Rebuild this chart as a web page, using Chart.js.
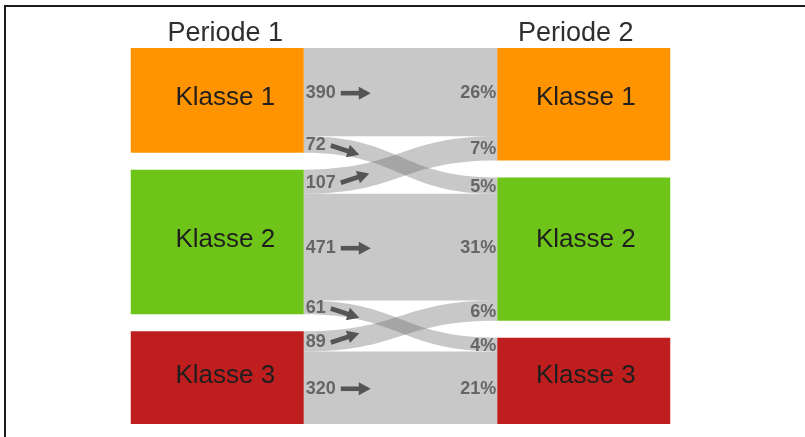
<!DOCTYPE html>
<html lang="de">
<head>
<meta charset="utf-8">
<title>Klassenwechsel Periode 1 – Periode 2</title>
<script src="https://cdn.jsdelivr.net/npm/chart.js@4.4.1/dist/chart.umd.min.js"></script>
<style>
  html, body { margin: 0; padding: 0; background: #fff; overflow: hidden; }
  #rahmen { position: absolute; left: 4px; top: 5px; width: 900px; height: 500px;
            border-top: 2px solid #1c1c1c; border-left: 2px solid #1c1c1c; }
  #chart { position: absolute; left: 0; top: 0; }
</style>
</head>
<body>
<div id="rahmen"></div>
<canvas id="chart" width="805" height="437"></canvas>
<script>
const perioden = ['Periode 1', 'Periode 2'];
const klassen = ['Klasse 1', 'Klasse 2', 'Klasse 3'];
const farben = ['#FF9400', '#6FC41A', '#BE1E1E'];

// Anzahl Wechsel: Zeile = Klasse in Periode 1, Spalte = Klasse in Periode 2
const ausKlasse1 = [390, 72, 0];
const ausKlasse2 = [107, 471, 61];
const ausKlasse3 = [0, 89, 320];
const wechsel = [ausKlasse1, ausKlasse2, ausKlasse3];

const luecke = 75; // Abstand zwischen den Klassen in y-Einheiten
const FONT = "'Liberation Sans', Arial, sans-serif";

const summe = arr => arr.reduce((a, b) => a + b, 0);
const summeAus = wechsel.map(summe);
const summeEin = klassen.map((_, j) => summe(wechsel.map(z => z[j])));
const gesamt = summe(summeAus);

function stapeln(summen) {
  let y = 0;
  return summen.map(s => { const b = [y, y + s]; y += s + luecke; return b; });
}
const links = stapeln(summeAus);
const rechts = stapeln(summeEin);

// Bänder: Start im linken Block, Ende im rechten Block
const baender = [];
const ausPos = links.map(b => b[0]);
const einPos = rechts.map(b => b[0]);
wechsel.forEach((zeile, i) => zeile.forEach((v, j) => {
  if (!v) return;
  baender.push({ i, j, v, a: ausPos[i], b: einPos[j] });
  ausPos[i] += v;
  einPos[j] += v;
}));

function pfeil(ctx, x, y, winkel, laenge) {
  ctx.save();
  ctx.translate(x, y);
  ctx.rotate(winkel);
  ctx.fillStyle = '#555';
  ctx.fillRect(0, -2.3, laenge - 9, 4.6);
  ctx.beginPath();
  ctx.moveTo(laenge - 12, -6.5);
  ctx.lineTo(laenge, 0);
  ctx.lineTo(laenge - 12, 6.5);
  ctx.closePath();
  ctx.fill();
  ctx.restore();
}

function kanten(chart) {
  const l = chart.getDatasetMeta(0).data[0];
  const r = chart.getDatasetMeta(0).data[1];
  return { l, r, x0: l.x + l.width / 2, x1: r.x - r.width / 2 };
}

const bandPlugin = {
  id: 'baender',
  beforeDatasetsDraw(chart) {
    const { ctx, scales: { y } } = chart;
    const { x0, x1 } = kanten(chart);
    const xm = (x0 + x1) / 2;
    baender.forEach(b => {
      const t0 = y.getPixelForValue(b.a), u0 = y.getPixelForValue(b.a + b.v);
      const t1 = y.getPixelForValue(b.b), u1 = y.getPixelForValue(b.b + b.v);
      ctx.beginPath();
      ctx.moveTo(x0, t0);
      ctx.bezierCurveTo(xm, t0, xm, t1, x1, t1);
      ctx.lineTo(x1, u1);
      ctx.bezierCurveTo(xm, u1, xm, u0, x0, u0);
      ctx.closePath();
      ctx.fillStyle = b.i === b.j ? 'rgb(200,200,200)' : 'rgba(102,102,102,0.36)';
      ctx.fill();
    });
  }
};

const textPlugin = {
  id: 'texte',
  afterDatasetsDraw(chart) {
    const { ctx, scales: { y } } = chart;
    const { l, r, x0, x1 } = kanten(chart);
    ctx.save();

    // Überschriften
    ctx.fillStyle = '#2e2e2e';
    ctx.font = '27px ' + FONT;
    ctx.textAlign = 'center';
    ctx.textBaseline = 'alphabetic';
    ctx.fillText(perioden[0], l.x + 8, 41);
    ctx.fillText(perioden[1], r.x - 8, 41);

    // Klassennamen in den Blöcken
    ctx.fillStyle = '#1e1e1e';
    ctx.font = '26px ' + FONT;
    ctx.textBaseline = 'middle';
    klassen.forEach((k, n) => {
      const ym = y.getPixelForValue((links[n][0] + links[n][1]) / 2) - 2;
      ctx.fillText(k, l.x + 8, ym);
      ctx.fillText(k, r.x + 2, ym);
    });

    // Anzahl links, Anteil rechts
    ctx.font = 'bold 18px ' + FONT;
    ctx.fillStyle = '#666';
    baender.forEach(b => {
      const ya = y.getPixelForValue(b.a + b.v / 2);
      const ye = y.getPixelForValue(b.b + b.v / 2);
      ctx.textAlign = 'left';
      const txt = String(b.v);
      ctx.fillText(txt, x0 + 2, ya + 1);
      const w = ctx.measureText(txt).width;
      const winkel = b.i === b.j ? 0 : (b.j > b.i ? 1 : -1) * 18 * Math.PI / 180;
      pfeil(ctx, x0 + 2 + w + 5, ya + 1, winkel, 30);
      ctx.textAlign = 'right';
      ctx.fillText(Math.round(b.v / gesamt * 100) + '%', x1 - 1, ye + 1);
    });
    ctx.restore();
  }
};

new Chart(document.getElementById('chart'), {
  type: 'bar',
  data: {
    labels: perioden,
    datasets: klassen.map((k, n) => ({
      label: k,
      data: [links[n], rechts[n]],
      backgroundColor: farben[n],
      borderWidth: 0,
      grouped: false,
      barPercentage: 0.472,
      categoryPercentage: 1
    }))
  },
  options: {
    responsive: false,
    devicePixelRatio: 1,
    animation: false,
    layout: { padding: { left: 34, right: 38, top: 48, bottom: 13 } },
    plugins: { legend: { display: false }, tooltip: { enabled: false } },
    scales: {
      x: { display: false, offset: true },
      y: { display: false, reverse: true, min: 0, max: gesamt + luecke * (klassen.length - 1) }
    }
  },
  plugins: [bandPlugin, textPlugin]
});
</script>
</body>
</html>
